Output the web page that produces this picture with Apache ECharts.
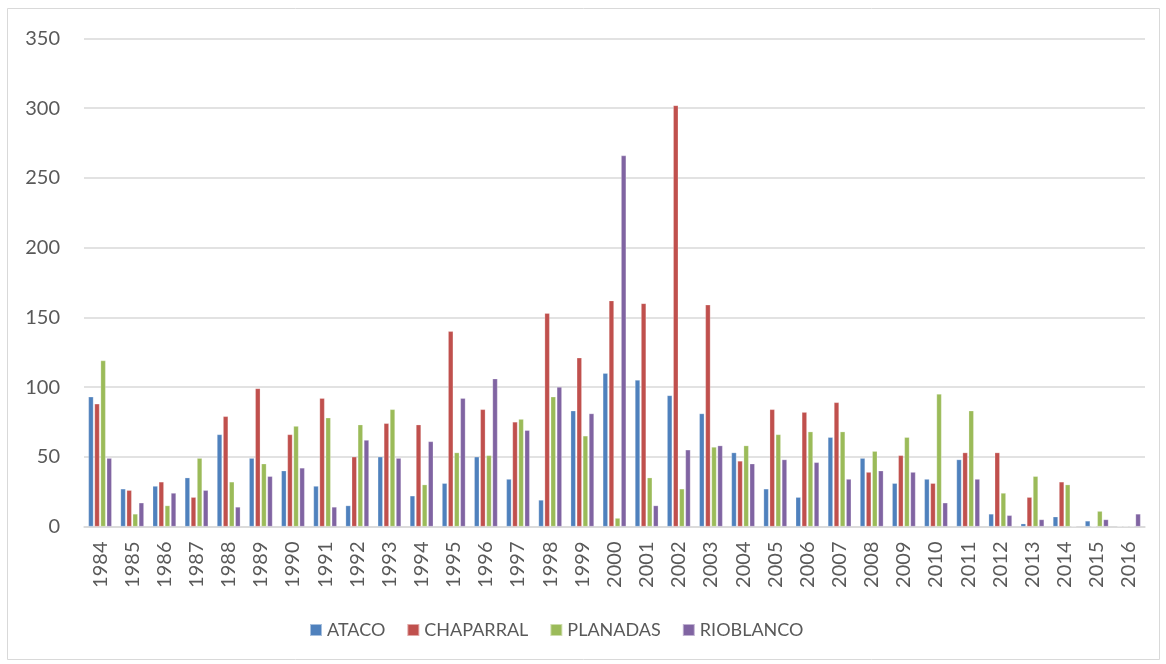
<!DOCTYPE html>
<html>
<head>
<meta charset="utf-8">
<script src="https://cdn.jsdelivr.net/npm/echarts@6/dist/echarts.min.js"></script>
<style>
html,body{margin:0;padding:0;background:#fff;}
#chart{width:1166px;height:664px;}
</style>
</head>
<body>
<div id="chart"></div>
<script>
const years = ['1984','1985','1986','1987','1988','1989','1990','1991','1992','1993','1994','1995','1996','1997','1998','1999','2000','2001','2002','2003','2004','2005','2006','2007','2008','2009','2010','2011','2012','2013','2014','2015','2016'];
const ataco     = [93,27,29,35,66,49,40,29,15,50,22,31,50,34,19,83,110,105,94,81,53,27,21,64,49,31,34,48,9,2,7,4,0];
const chaparral = [88,26,32,21,79,99,66,92,50,74,73,140,84,75,153,121,162,160,302,159,47,84,82,89,39,51,31,53,53,21,32,0,0];
const planadas  = [119,9,15,49,32,45,72,78,73,84,30,53,51,77,93,65,6,35,27,57,58,66,68,68,54,64,95,83,24,36,30,11,0];
const rioblanco = [49,17,24,26,14,36,42,14,62,49,61,92,106,69,100,81,266,15,55,58,45,48,46,34,40,39,17,34,8,5,0,5,9];
const seriesNames = ['ATACO','CHAPARRAL','PLANADAS','RIOBLANCO'];
const yTicks = {min:0, max:350, interval:50};

const FONT = "Lato, sans-serif";
const colors = ['#4F81BD','#C0504D','#9BBB59','#8064A2'];
const dataArr = [ataco, chaparral, planadas, rioblanco];

const chart = echarts.init(document.getElementById('chart'), null, {renderer:'canvas'});
chart.setOption({
  animation:false,
  backgroundColor:'#fff',
  color:colors,
  graphic:[{type:'rect', shape:{x:7.5,y:8.5,width:1152,height:651}, style:{fill:'none',stroke:'#d9d9d9',lineWidth:1}, silent:true}],
  grid:{left:84, right:21, top:38.5, bottom:137.5, containLabel:false},
  legend:{
    data:seriesNames, left:309, top:621, padding:0,
    itemWidth:12, itemHeight:12, itemGap:21, icon:'rect',
    textStyle:{fontFamily:FONT, fontSize:18, color:'#595959'}
  },
  xAxis:{
    type:'category', data:years,
    axisLine:{lineStyle:{color:'#d9d9d9', width:1.5}},
    axisTick:{show:false},
    axisLabel:{rotate:90, interval:0, margin:15, fontFamily:FONT, fontSize:20, color:'#595959'}
  },
  yAxis:{
    type:'value', min:yTicks.min, max:yTicks.max, interval:yTicks.interval,
    axisLine:{show:false}, axisTick:{show:false},
    splitLine:{lineStyle:{color:'#d9d9d9', width:1.5}},
    axisLabel:{margin:24, fontFamily:FONT, fontSize:20, color:'#595959'}
  },
  series: seriesNames.map((n,i)=>({
    name:n, type:'bar', data:dataArr[i], barWidth:5, barGap:'22%',
    itemStyle:{color:colors[i], borderColor:'rgba(255,255,255,0.5)', borderWidth:0.5}
  }))
});
</script>
</body>
</html>
